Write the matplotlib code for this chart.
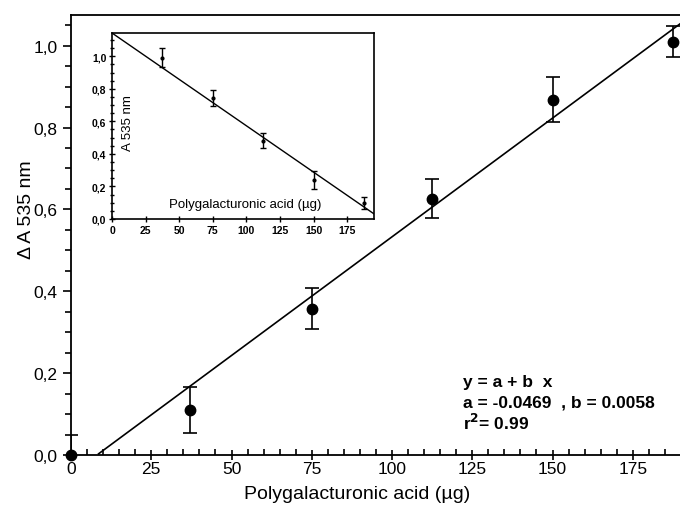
import matplotlib
matplotlib.use("Agg")
import matplotlib.pyplot as plt
import numpy as np
from matplotlib.ticker import FuncFormatter, MultipleLocator

plt.rcParams['font.family'] = ['Liberation Sans', 'DejaVu Sans']

# Main data
x_main = [0, 37, 75, 112.5, 150, 187.5]
y_main = [0.0, 0.11, 0.357, 0.626, 0.868, 1.01]
err_main = [0.05, 0.057, 0.05, 0.048, 0.055, 0.037]
fit_a, fit_b = -0.0469, 0.0058

# Inset data
x_in = [37.5, 75, 112.5, 150, 187.5]
y_in = [0.99, 0.742, 0.482, 0.24, 0.10]
err_in = [0.058, 0.05, 0.048, 0.053, 0.038]
in_a, in_b = 1.143, -0.0057

xticks_main = [0, 25, 50, 75, 100, 125, 150, 175]
yticks_main = [0.0, 0.2, 0.4, 0.6, 0.8, 1.0]

comma = FuncFormatter(lambda v, p: f"{v:.1f}".replace('.', ','))

fig = plt.figure(figsize=(6.8, 5.06), dpi=100)
ax = fig.add_axes([71/680, 1-456/506, 1-71/680, 440/506])
ax.set_xlim(0, 189.7)
ax.set_ylim(0, 1.075)

xl = np.linspace(0, 189.7, 200)
yl = fit_a + fit_b * xl
m = yl >= 0
ax.plot(xl[m], yl[m], color='black', lw=1.2, zorder=2)
ax.errorbar(x_main, y_main, yerr=err_main, fmt='none', ecolor='black',
            capsize=5, elinewidth=1.2, capthick=1.2, zorder=3)
ax.plot(x_main, y_main, 'o', color='black', ms=7.5, zorder=4, clip_on=False)

ax.set_xticks(xticks_main)
ax.set_yticks(yticks_main)
ax.xaxis.set_minor_locator(MultipleLocator(5))
ax.yaxis.set_minor_locator(MultipleLocator(0.05))
ax.yaxis.set_major_formatter(comma)
ax.tick_params(axis='x', which='major', direction='inout', length=7, width=1.2, labelsize=12.5, pad=1)
ax.tick_params(axis='x', which='minor', direction='in', length=4, width=1.2)
ax.tick_params(axis='y', which='major', direction='out', length=6, width=1.2, labelsize=12.5)
ax.tick_params(axis='y', which='minor', direction='out', length=4, width=1.2)
for s in ['left', 'bottom', 'top']:
    ax.spines[s].set_linewidth(1.3)
ax.spines['right'].set_visible(False)

ax.set_xlabel('Polygalacturonic acid (µg)', fontsize=14, va='center')
ax.xaxis.set_label_coords((357-71)/609, (456-495)/440)
ax.set_ylabel('Δ A 535 nm', fontsize=14, va='center')
ax.yaxis.set_label_coords((27-71)/609, (456-210)/440)

eq_x = (463-71)/609
ax.text(eq_x, (456-383)/440, 'y = a + b  x', transform=ax.transAxes,
        fontsize=12.5, fontweight='bold', va='center', ha='left')
ax.text(eq_x, (456-403)/440, 'a = -0.0469  , b = 0.0058', transform=ax.transAxes,
        fontsize=12.5, fontweight='bold', va='center', ha='left')
ax.text(eq_x, (456-423)/440, r'r$^{\mathbf{2}}$= 0.99', transform=ax.transAxes,
        fontsize=12.5, fontweight='bold', va='center', ha='left')

# Inset
ins = fig.add_axes([112/680, 1-220/506, (374-112)/680, (220-34)/506])
ins.set_xlim(0, 195)
ins.set_ylim(0, 1.143)
xi = np.linspace(0, 195, 100)
ins.plot(xi, in_a + in_b * xi, color='black', lw=1.0)
ins.errorbar(x_in, y_in, yerr=err_in, fmt='o', color='black', ms=2,
             capsize=2.5, elinewidth=1.0, capthick=1.0)
ins.set_xticks(xticks_main)
ins.set_yticks(yticks_main)
ins.yaxis.set_minor_locator(MultipleLocator(0.05))
ins.yaxis.set_major_formatter(comma)
ins.tick_params(axis='both', which='major', direction='inout', length=4, width=1.0,
                labelsize=7.5, pad=2)
ins.tick_params(axis='y', which='minor', direction='inout', length=2.5, width=1.0)
for lab in ins.get_xticklabels() + ins.get_yticklabels():
    lab.set_fontweight('bold')
for s in ins.spines.values():
    s.set_linewidth(1.2)
ins.text((128-112)/262, (220-123)/186, 'A 535 nm', rotation=90, transform=ins.transAxes,
         fontsize=9.5, ha='center', va='center')
ins.text((245-112)/262, (220-205)/186, 'Polygalacturonic acid (µg)', transform=ins.transAxes,
         fontsize=9.5, ha='center', va='center')

fig.savefig('out.png', dpi=100)
